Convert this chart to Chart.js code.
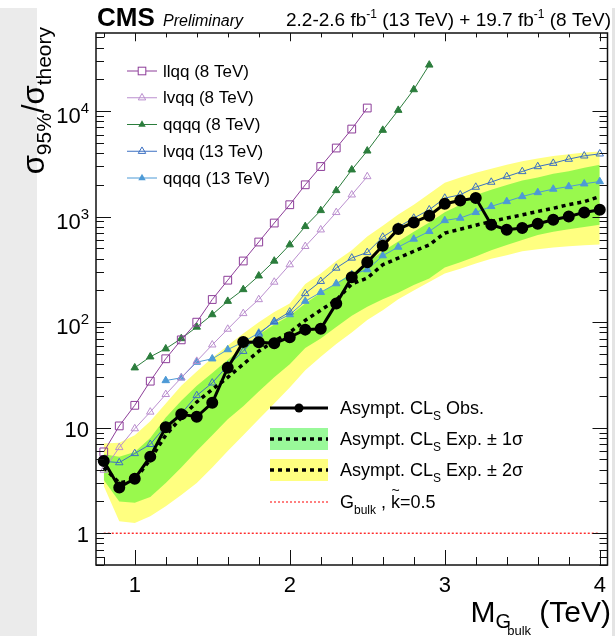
<!DOCTYPE html>
<html><head><meta charset="utf-8">
<script src="https://cdn.jsdelivr.net/npm/chart.js@4.4.1/dist/chart.umd.min.js"></script>
<style>
html,body{margin:0;padding:0;background:#fff;overflow:hidden;}
canvas{display:block;}
</style></head><body>
<canvas id="c" width="615" height="636"></canvas>
<script>
// ---------------- data ----------------
const masses = [0.8,0.9,1.0,1.1,1.2,1.3,1.4,1.5,1.6,1.7,1.8,1.9,2.0,2.1,2.2,2.3,2.4,2.5,2.6,2.7,2.8,2.9,3.0,3.1,3.2,3.3,3.4,3.5,3.6,3.7,3.8,3.9,4.0];
const observed = [4.83,2.71,3.29,5.32,10.1,13.4,12.7,17.2,37,65,64.5,63,72,85,86.5,150,266,369,530,763,881,1020,1325,1423,1500,838,751,780,857,935,1005,1097,1162];
const expected = [4.2,3.0,3.2,5.0,8.5,12.5,17.5,23,30,40,53,66,80,104,130,162,230,262,350,405,470,540,700,760,830,900,970,1040,1120,1200,1300,1390,1550];
const exp1Up   = [5.6,5.3,5.9,8.0,12.5,18,25,33,44,58,76,95,115,150,190,235,290,370,470,580,720,880,1100,1300,1600,1800,2000,2200,2350,2550,2700,2900,3100];
const exp1Down = [3.2,2.0,1.95,2.2,3.0,4.2,6.0,8.5,12,16,22,30,40,57,70,90,115,140,165,190,225,260,330,370,420,480,540,600,670,720,760,800,840];
const exp2Up   = [7.1,7.2,8.5,11.5,17,25,34,46,60,78,100,125,150,230,290,380,480,650,820,1050,1300,1650,2100,2350,2600,2850,3100,3350,3550,3750,3900,4050,4150];
const exp2Down = [2.8,1.3,1.25,1.45,1.8,2.3,3.0,4.2,6,8.5,12,17,24,35,47,62,80,105,130,165,200,240,290,320,360,400,430,470,490,510,525,535,545];

const mass8 = [0.8,0.9,1.0,1.1,1.2,1.3,1.4,1.5,1.6,1.7,1.8,1.9,2.0,2.1,2.2,2.3,2.4,2.5];
const llqq8 = [5.9,10.4,16.3,27.6,45,68,100,164,250,380,575,870,1297,2004,2985,4470,6760,10700];
const lvqq8 = [3.97,6.5,9.8,14.1,20.7,29.7,42.7,61,86,121,164,240,351,523,751,1097,1610,2400];
const massQqqq8 = [1.0,1.1,1.2,1.3,1.4,1.5,1.6,1.7,1.8,1.9,2.0,2.1,2.2,2.3,2.4,2.5,2.6,2.7,2.8,2.9];
const qqqq8 = [37,47,56,70,90,118,158,204,275,380,542,808,1145,1770,2780,4200,6600,10200,16000,27400];
const lvqq13 = [4.8,4.67,5.7,6.95,10.4,13.6,20.2,26.6,38.8,53,77,102,125,187,244,326,406,458,641,798,970,1162,1500,1611,1905,2125,2400,2680,2985,3210,3510,3770,3940];
const massQqqq13 = [1.2,1.3,1.4,1.5,1.6,1.7,1.8,1.9,2.0,2.1,2.2,2.3,2.4,2.5,2.6,2.7,2.8,2.9,3.0,3.1,3.2,3.3,3.4,3.5,3.6,3.7,3.8,3.9,4.0];
const qqqq13 = [28,29.7,41.8,45,55,65,79,100,118,158,192,232,282,315,427,515,614,725,920,970,1097,1250,1393,1553,1694,1825,1930,2048,2153];
const theoryMass = [0.8,4.0];
const theoryRatio = [1,1];

const xTicksMajor = [1,2,3,4];
const yTicksMajor = [1,10,100,1000,10000];
const yTickLabels = [['1',''],['10',''],['10','2'],['10','3'],['10','4']];

// ---------------- styles ----------------
const C = {
  llqq8:'#8d3d99', lvqq8:'#bb8fcf', qqqq8:'#2b7d3c', lvqq13:'#3c70c2', qqqq13:'#4d9ad6',
  yellow:'#ffff80', green:'rgba(0,240,0,0.40)', red:'#ff0000'
};
const pts = (xs, ys) => xs.map((x,i)=>({x:x, y:ys[i]}));

const FONT = '"Liberation Sans", Arial, Helvetica, sans-serif';

function drawMarker(ctx, type, x, y, color, size){
  ctx.save();
  ctx.strokeStyle = color; ctx.fillStyle = color; ctx.lineWidth = 1;
  if (type === 'square'){
    ctx.strokeRect(x-size, y-size, 2*size, 2*size);
  } else if (type === 'otri' || type === 'ftri'){
    const r = size;
    ctx.beginPath();
    ctx.moveTo(x, y-r); ctx.lineTo(x+r*0.866, y+r*0.5); ctx.lineTo(x-r*0.866, y+r*0.5); ctx.closePath();
    if (type==='ftri') ctx.fill(); else ctx.stroke();
  } else if (type === 'circle'){
    ctx.beginPath(); ctx.arc(x,y,size,0,Math.PI*2); ctx.fill();
  }
  ctx.restore();
}

function textW(ctx, font, s){ ctx.font = font; return ctx.measureText(s).width; }

const rootPlugin = {
  id:'rootStyle',
  beforeDraw(chart){
    const ctx = chart.ctx;
    ctx.save();
    ctx.fillStyle = '#ffffff'; ctx.fillRect(0,0,chart.width,chart.height);
    ctx.fillStyle = '#ebebeb'; ctx.fillRect(0,8,37,chart.height-8);
    ctx.fillStyle = '#e4e4e4'; ctx.fillRect(612,8,3,chart.height-8);
    ctx.restore();
  },
  afterDraw(chart){
    const ctx = chart.ctx, xs = chart.scales.x, ys = chart.scales.y, a = chart.chartArea;
    ctx.save();
    // frame
    ctx.strokeStyle = '#111'; ctx.lineWidth = 1.5;
    ctx.strokeRect(a.left, a.top, a.right-a.left, a.bottom-a.top);
    ctx.lineWidth = 1;
    ctx.beginPath();
    // x ticks
    for (let v=0.8; v<=4.01; v+=0.2){
      const px = Math.round(xs.getPixelForValue(v))+0.5;
      const major = Math.abs(v-Math.round(v))<1e-6;
      const L = major?15:8;
      ctx.moveTo(px,a.bottom); ctx.lineTo(px,a.bottom-L);
      ctx.moveTo(px,a.top); ctx.lineTo(px,a.top+L*0.55);
    }
    // y ticks
    for (let d=-1; d<=4; d++){
      for (let m=1; m<=9; m++){
        const v = m*Math.pow(10,d);
        if (v < ys.min || v > ys.max) continue;
        const py = Math.round(ys.getPixelForValue(v))+0.5;
        const L = (m===1)?15:8;
        ctx.moveTo(a.left,py); ctx.lineTo(a.left+L,py);
        ctx.moveTo(a.right,py); ctx.lineTo(a.right-L,py);
      }
    }
    ctx.stroke();

    // x tick labels
    ctx.fillStyle = '#000';
    ctx.font = '22px '+FONT; ctx.textAlign='center'; ctx.textBaseline='alphabetic';
    xTicksMajor.forEach(v=>{ ctx.fillText(String(v), xs.getPixelForValue(v), 592); });
    // y tick labels
    yTicksMajor.forEach((v,i)=>{
      const py = ys.getPixelForValue(v);
      const [base, ex] = yTickLabels[i];
      ctx.textAlign='right';
      if (ex){
        const ew = textW(ctx,'15px '+FONT, ex);
        ctx.font = '15px '+FONT; ctx.fillText(ex, 89, py+2);
        ctx.font = '22px '+FONT; ctx.fillText(base, 89-ew, py+12);
      } else {
        ctx.font = '22px '+FONT; ctx.fillText(base, 89, py+9);
      }
    });

    // y title (rotated)
    {
      const F = 31, S = 21;
      const parts = [['σ',F,0],['95%',S,7],['/',F,0],['σ',F,0],['theory',S,7]];
      let total = 0; parts.forEach(p=>{ total += textW(ctx, p[1]+'px '+FONT, p[0]); });
      ctx.save();
      ctx.translate(44, 27+total); ctx.rotate(-Math.PI/2);
      ctx.textAlign='left'; ctx.textBaseline='alphabetic';
      let x = 0;
      parts.forEach(p=>{ ctx.font = p[1]+'px '+FONT; ctx.fillText(p[0], x, p[2]); x += ctx.measureText(p[0]).width; });
      ctx.restore();
    }
    // x title
    {
      ctx.textAlign='left'; ctx.textBaseline='alphabetic';
      const F = 30;
      const wM = textW(ctx, F+'px '+FONT, 'M');
      const wG = textW(ctx, '20px '+FONT, 'G');
      const wB = textW(ctx, '13px '+FONT, 'bulk');
      const wT = textW(ctx, F+'px '+FONT, ' (TeV)');
      const total = wM + wG + wB*0.75 + wT + 2;
      let x = 611 - total, y = 622;
      ctx.font = F+'px '+FONT; ctx.fillText('M', x, y); x += wM;
      ctx.font = '20px '+FONT; ctx.fillText('G', x, y+6); 
      ctx.font = '13px '+FONT; ctx.fillText('bulk', x+wG*0.75, y+13);
      x += wG + wB*0.75 + 2;
      ctx.font = F+'px '+FONT; ctx.fillText(' (TeV)', x, y);
    }
    // header
    {
      ctx.textAlign='left'; ctx.textBaseline='alphabetic';
      ctx.font = 'bold 26px '+FONT; ctx.fillText('CMS', 97, 26);
      ctx.font = 'italic 16px '+FONT; ctx.fillText('Preliminary', 163, 26);
      const segs = [['2.2-2.6 fb',19,0],['-1',12,-8],[' (13 TeV) + 19.7 fb',19,0],['-1',12,-8],[' (8 TeV)',19,0]];
      let tot = 0; segs.forEach(s=>{ tot += textW(ctx, s[1]+'px '+FONT, s[0]); });
      let x = 611 - tot;
      segs.forEach(s=>{ ctx.font = s[1]+'px '+FONT; ctx.fillText(s[0], x, 26+s[2]); x += ctx.measureText(s[0]).width; });
    }
    // legend 1 (top-left)
    {
      const rows = [
        ['llqq (8 TeV)', C.llqq8, 'square'],
        ['lvqq (8 TeV)', C.lvqq8, 'otri'],
        ['qqqq (8 TeV)', C.qqqq8, 'ftri'],
        ['lvqq (13 TeV)', C.lvqq13, 'otri'],
        ['qqqq (13 TeV)', C.qqqq13, 'ftri']
      ];
      rows.forEach((r,i)=>{
        const y = 71 + i*26.75;
        ctx.strokeStyle = r[1]; ctx.lineWidth = 1;
        ctx.beginPath(); ctx.moveTo(127,y); ctx.lineTo(157,y); ctx.stroke();
        if (r[2]==='square'){ ctx.fillStyle='#fff'; ctx.fillRect(138,y-4,8,8); }
        drawMarker(ctx, r[2], 142, y, r[1], r[2]==='square'?3.8:4.3);
        ctx.fillStyle = '#000'; ctx.font = '17px '+FONT; ctx.textAlign='left'; ctx.textBaseline='middle';
        ctx.fillText(r[0], 163, y+1);
      });
    }
    // legend 2 (bottom-right)
    {
      const rowY = [408, 439, 470, 502];
      const x0 = 270, x1 = 328, tx = 340;
      ctx.strokeStyle='#000'; ctx.lineWidth=3; ctx.setLineDash([]);
      ctx.beginPath(); ctx.moveTo(x0,rowY[0]); ctx.lineTo(x1,rowY[0]); ctx.stroke();
      drawMarker(ctx,'circle',299,rowY[0],'#000',4.5);
      ctx.fillStyle = C.green; ctx.fillRect(x0, rowY[1]-11, x1-x0, 22);
      ctx.fillStyle = C.yellow; ctx.fillRect(x0, rowY[2]-11, x1-x0, 22);
      ctx.strokeStyle='#000'; ctx.lineWidth=3.5; ctx.setLineDash([4,4]);
      [rowY[1],rowY[2]].forEach(y=>{ ctx.beginPath(); ctx.moveTo(x0,y); ctx.lineTo(x1,y); ctx.stroke(); });
      ctx.strokeStyle=C.red; ctx.lineWidth=1.2; ctx.setLineDash([2,2]);
      ctx.beginPath(); ctx.moveTo(x0,rowY[3]); ctx.lineTo(x1,rowY[3]); ctx.stroke();
      ctx.setLineDash([]);
      ctx.fillStyle='#000'; ctx.textAlign='left'; ctx.textBaseline='alphabetic';
      const F = 18, S = 12;
      const cls = (y, tail)=>{
        let x = tx;
        ctx.font = F+'px '+FONT; ctx.fillText('Asympt. CL', x, y); x += ctx.measureText('Asympt. CL').width;
        ctx.font = S+'px '+FONT; ctx.fillText('S', x, y+6); x += ctx.measureText('S').width;
        ctx.font = F+'px '+FONT; ctx.fillText(tail, x, y);
      };
      cls(rowY[0]+6, ' Obs.');
      cls(rowY[1]+6, ' Exp. ± 1σ');
      cls(rowY[2]+6, ' Exp. ± 2σ');
      let x = tx, y = rowY[3]+6;
      ctx.font = F+'px '+FONT; ctx.fillText('G', x, y); x += ctx.measureText('G').width;
      ctx.font = S+'px '+FONT; ctx.fillText('bulk', x, y+6); x += ctx.measureText('bulk').width;
      ctx.font = F+'px '+FONT; ctx.fillText(' , ', x, y); x += ctx.measureText(' , ').width;
      const kw = ctx.measureText('k').width;
      ctx.fillText('k', x, y);
      ctx.font = '14px '+FONT; ctx.textAlign='center'; ctx.fillText('~', x+kw/2, y-13);
      ctx.textAlign='left'; ctx.font = F+'px '+FONT; ctx.fillText('=0.5', x+kw, y);
    }
    ctx.restore();
  }
};

const lineDs = (label, xs, ys, color, style, filled) => ({
  label, data: pts(xs, ys), borderColor: color, borderWidth: 1, fill: false, tension: 0,
  pointStyle: style, pointRadius: style==='rect'?5.5:4.3, pointBorderWidth: 1,
  pointBorderColor: color, pointBackgroundColor: filled ? color : 'rgba(0,0,0,0)'
});

const chart = new Chart(document.getElementById('c'), {
  type: 'line',
  data: {
    datasets: [
      { label:'Obs', data: pts(masses, observed), borderColor:'#000', borderWidth:3, tension:0, fill:false,
        pointStyle:'circle', pointRadius:4.5, pointBackgroundColor:'#000', pointBorderColor:'#000' },
      { label:'Exp', data: pts(masses, expected), borderColor:'#000', borderWidth:3.5, borderDash:[4,4], tension:0, fill:false, pointRadius:0 },
      lineDs('llqq (8 TeV)', mass8, llqq8, C.llqq8, 'rect', false),
      lineDs('lvqq (8 TeV)', mass8, lvqq8, C.lvqq8, 'triangle', false),
      lineDs('qqqq (8 TeV)', massQqqq8, qqqq8, C.qqqq8, 'triangle', true),
      lineDs('lvqq (13 TeV)', masses, lvqq13, C.lvqq13, 'triangle', false),
      lineDs('qqqq (13 TeV)', massQqqq13, qqqq13, C.qqqq13, 'triangle', true),
      { label:'theory', data: pts(theoryMass, theoryRatio), borderColor:C.red, borderWidth:1.2, borderDash:[2,2], pointRadius:0, fill:false },
      { label:'exp1Up', data: pts(masses, exp1Up), borderWidth:0, borderColor:'rgba(0,0,0,0)', pointRadius:0, fill:'+1', backgroundColor:C.green, tension:0 },
      { label:'exp1Down', data: pts(masses, exp1Down), borderWidth:0, borderColor:'rgba(0,0,0,0)', pointRadius:0, fill:false, tension:0 },
      { label:'exp2Up', data: pts(masses, exp2Up), borderWidth:0, borderColor:'rgba(0,0,0,0)', pointRadius:0, fill:'+1', backgroundColor:C.yellow, tension:0 },
      { label:'exp2Down', data: pts(masses, exp2Down), borderWidth:0, borderColor:'rgba(0,0,0,0)', pointRadius:0, fill:false, tension:0 }
    ]
  },
  options: {
    responsive:false, animation:false, devicePixelRatio:1,
    layout:{ padding:{ left:96, top:33, right:4, bottom:71 } },
    plugins:{ legend:{display:false}, tooltip:{enabled:false}, filler:{propagate:false} },
    scales:{
      x:{ type:'linear', min:0.75, max:4.05, display:false },
      y:{ type:'logarithmic', min:0.5, max:55000, display:false }
    }
  },
  plugins:[rootPlugin]
});
</script>
</body></html>
